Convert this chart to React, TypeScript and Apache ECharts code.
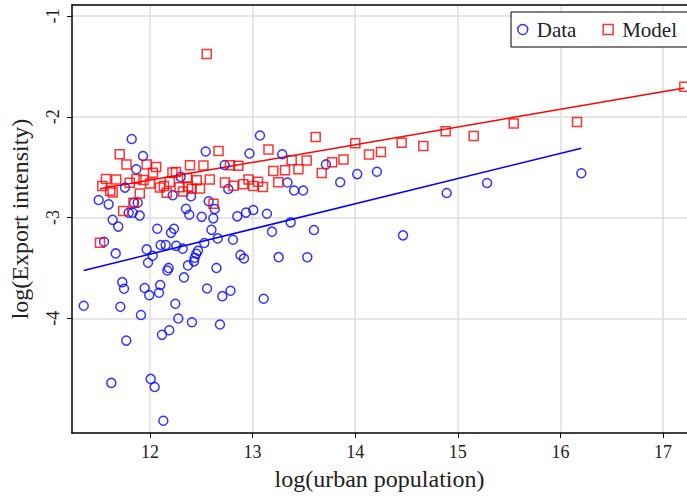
import React, { useEffect, useRef } from "react";
import * as echarts from "echarts";

// log(urban population) and log(Export intensity) — observed data
const dataX = [
  11.354, 11.5, 11.552, 11.597, 11.623, 11.636, 11.666, 11.691, 11.711, 11.73,
  11.747, 11.756, 11.769, 11.792, 11.822, 11.831, 11.844, 11.866, 11.88, 11.9,
  11.912, 11.932, 11.948, 11.968, 11.981, 11.993, 12.007, 12.026, 12.046, 12.071,
  12.088, 12.1, 12.104, 12.117, 12.13, 12.153, 12.169, 12.182, 12.188, 12.205,
  12.221, 12.234, 12.247, 12.256, 12.276, 12.299, 12.319, 12.331, 12.351, 12.37,
  12.383, 12.4, 12.409, 12.429, 12.436, 12.451, 12.468, 12.504, 12.529, 12.543,
  12.556, 12.572, 12.599, 12.617, 12.631, 12.648, 12.66, 12.682, 12.705, 12.728,
  12.763, 12.785, 12.809, 12.851, 12.882, 12.916, 12.936, 12.97, 13.007, 13.072,
  13.108, 13.14, 13.189, 13.254, 13.289, 13.34, 13.371, 13.405, 13.493, 13.533,
  13.598, 13.715, 13.854, 14.02, 14.212, 14.466, 14.892, 15.285, 16.204,
];
const dataY = [
  -3.876, -2.826, -3.24, -2.869, -4.641, -3.023, -3.356, -3.09, -3.886, -3.641,
  -3.707, -2.703, -4.221, -2.953, -2.22, -2.953, -2.854, -2.521, -2.854, -2.981,
  -3.967, -2.389, -3.699, -3.316, -3.448, -3.77, -4.601, -3.379, -4.681, -3.112,
  -3.747, -3.669, -3.273, -4.164, -5.016, -3.273, -3.525, -3.5, -4.118, -3.152,
  -2.779, -3.112, -3.856, -3.281, -4.002, -2.597, -3.309, -3.594, -2.914, -3.475,
  -2.973, -2.789, -4.039, -3.435, -3.399, -3.359, -3.329, -2.993, -3.253, -2.345,
  -3.704, -2.839, -3.122, -3.008, -2.915, -3.5, -3.207, -4.062, -3.78, -2.478,
  -2.717, -3.727, -3.22, -2.988, -3.371, -3.406, -2.951, -2.365, -2.925, -2.186,
  -3.806, -2.963, -3.14, -3.393, -2.372, -2.652, -3.048, -2.732, -2.732, -3.394,
  -3.124, -2.473, -2.65, -2.569, -2.546, -3.177, -2.756, -2.657, -2.561,
];

// model predictions
const modelX = [
  11.513, 11.535, 11.571, 11.612, 11.636, 11.671, 11.705, 11.739, 11.771, 11.803,
  11.839, 11.868, 11.901, 11.937, 11.968, 12.0, 12.029, 12.06, 12.097, 12.136,
  12.163, 12.193, 12.219, 12.253, 12.288, 12.322, 12.361, 12.37, 12.39, 12.406,
  12.455, 12.487, 12.521, 12.553, 12.583, 12.619, 12.668, 12.731, 12.78, 12.814,
  12.861, 12.909, 12.96, 13.007, 13.053, 13.101, 13.155, 13.202, 13.25, 13.316,
  13.381, 13.447, 13.527, 13.615, 13.674, 13.776, 13.886, 14.001, 14.135, 14.251,
  14.453, 14.664, 14.882, 15.155, 15.545, 16.162, 17.208,
];
const modelY = [
  -3.25, -2.687, -2.618, -2.735, -2.751, -2.622, -2.372, -2.935, -2.473, -2.655,
  -2.854, -2.618, -2.762, -2.627, -2.473, -2.663, -2.556, -2.499, -2.702, -2.687,
  -2.754, -2.647, -2.554, -2.548, -2.7, -2.742, -2.608, -2.693, -2.481, -2.715,
  -2.63, -2.713, -2.483, -1.378, -2.622, -2.864, -2.339, -2.652, -2.481, -2.685,
  -2.486, -2.67, -2.623, -2.687, -2.645, -2.698, -2.325, -2.539, -2.65, -2.531,
  -2.431, -2.521, -2.434, -2.201, -2.559, -2.451, -2.424, -2.262, -2.374, -2.349,
  -2.259, -2.289, -2.143, -2.19, -2.067, -2.051, -1.703,
];

// fitted lines (endpoints)
const dataFitX = [11.354, 16.204];
const dataFitY = [-3.525, -2.312];
const modelFitX = [11.513, 17.208];
const modelFitY = [-2.714, -1.714];

const xTicks = [12, 13, 14, 15, 16, 17];
const yTicks = [-4, -3, -2, -1];

const FONT = "'Liberation Serif', 'DejaVu Serif', serif";
const TEXT = "#222222";
const GRIDC = "#dedede";

export default function App() {
  const ref = useRef<HTMLDivElement>(null);
  useEffect(() => {
    if (!ref.current) return;
    const chart = echarts.init(ref.current, null, { renderer: "svg" });
    const zip = (xs: number[], ys: number[]) => xs.map((x, i) => [x, ys[i]]);
    const xMin = 11.24,
      xMax = 17.234,
      yMin = -5.138,
      yMax = -0.891;
    chart.setOption({
      animation: false,
      backgroundColor: "#ffffff",
      textStyle: { fontFamily: FONT },
      grid: { left: 72, right: 0, top: 5, bottom: 66, containLabel: false },
      legend: {
        orient: "horizontal",
        left: 511,
        top: 12,
        width: 220,
        padding: [7, 24, 7, 6],
        itemGap: 26,
        itemWidth: 10,
        itemHeight: 10,
        borderColor: "#000",
        borderWidth: 1,
        borderRadius: 0,
        backgroundColor: "#fff",
        textStyle: { fontFamily: FONT, fontSize: 21, color: TEXT, padding: [0, 0, 0, 4] },
        data: [
          { name: "Data", icon: "circle", itemStyle: { color: "rgba(0,0,0,0)", borderColor: "#0000ff", borderWidth: 1.5 } },
          { name: "Model", icon: "rect", itemStyle: { color: "rgba(0,0,0,0)", borderColor: "#ff0000", borderWidth: 1.5 } },
        ],
      },
      xAxis: [
        {
          type: "value",
          min: xMin,
          max: xMax,
          name: "log(urban population)",
          nameLocation: "middle",
          nameGap: 34,
          nameTextStyle: { fontFamily: FONT, fontSize: 24, color: TEXT },
          axisLine: { show: true, onZero: false, lineStyle: { color: "#000", width: 1.5 } },
          axisTick: { show: true, length: 5, customValues: xTicks, lineStyle: { color: "#000" } },
          axisLabel: { customValues: xTicks, fontFamily: FONT, fontSize: 18, color: TEXT, margin: 10 },
          splitLine: { show: true, lineStyle: { color: GRIDC, width: 1.5 } },
        },
        {
          type: "value",
          position: "top",
          min: xMin,
          max: xMax,
          axisLine: { show: true, onZero: false, lineStyle: { color: "#000", width: 1.5 } },
          axisTick: { show: false },
          axisLabel: { show: false },
          splitLine: { show: false },
        },
      ],
      yAxis: {
        type: "value",
        min: yMin,
        max: yMax,
        name: "log(Export intensity)",
        nameLocation: "middle",
        nameGap: 40,
        nameTextStyle: { fontFamily: FONT, fontSize: 24, color: TEXT },
        axisLine: { show: true, onZero: false, lineStyle: { color: "#000", width: 1.5 } },
        axisTick: { show: true, length: 5, customValues: yTicks, lineStyle: { color: "#000" } },
        axisLabel: { customValues: yTicks, rotate: 90, fontFamily: FONT, fontSize: 18, color: TEXT, margin: 10 },
        splitLine: { show: true, lineStyle: { color: GRIDC, width: 1.5 } },
      },
      series: [
        {
          name: "Data",
          type: "scatter",
          symbol: "circle",
          symbolSize: 9,
          itemStyle: { color: "rgba(0,0,0,0)", borderColor: "#0000ff", borderWidth: 1.5 },
          data: zip(dataX, dataY),
          z: 3,
        },
        {
          name: "Model",
          type: "scatter",
          symbol: "rect",
          symbolSize: 9,
          itemStyle: { color: "rgba(0,0,0,0)", borderColor: "#ff0000", borderWidth: 1.5 },
          data: zip(modelX, modelY),
          z: 3,
        },
        {
          name: "DataFit",
          type: "line",
          symbol: "none",
          lineStyle: { color: "#0000ff", width: 1.5 },
          data: zip(dataFitX, dataFitY),
          z: 2,
        },
        {
          name: "ModelFit",
          type: "line",
          symbol: "none",
          lineStyle: { color: "#ff0000", width: 1.5 },
          data: zip(modelFitX, modelFitY),
          z: 2,
        },
      ],
    });
    return () => chart.dispose();
  }, []);
  return <div ref={ref} style={{ width: 687, height: 499, position: "absolute", left: 0, top: 0 }} />;
}
